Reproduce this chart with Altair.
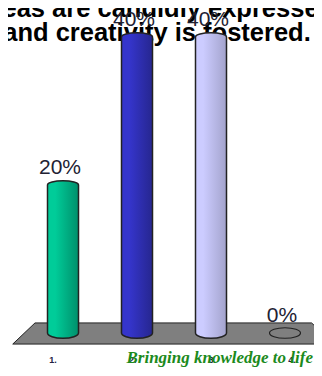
import altair as alt
import pandas as pd

categories = ["1.", "2.", "3.", "4."]
values = [20, 40, 40, 0]
labels = ["20%", "40%", "40%", "0%"]
light = ["#00cc99", "#3535cc", "#ccccff", "#ffffff"]
dark = ["#008f6b", "#26268f", "#a3a3cc", "#ffffff"]
title_lines = ["Ideas are candidly expressed", "and creativity is fostered."]
tagline = "Bringing knowledge to life"

df = pd.DataFrame({"cat": categories, "value": values, "label": labels})

CAP = "M-1,0 A1,0.34 0 1 1 1,0 A1,0.34 0 1 1 -1,0 Z"
TOP = "M-1,0 A1,0.27 0 0 1 1,0"
BOTTOM = "M-1,0 A1,0.34 0 0 0 1,0"
OUT = "#222222"

# Page margin of 8px: every position below is page position minus 8.
x_enc = alt.X("cat:N", sort=categories, axis=None,
              scale=alt.Scale(type="point", domain=categories, range=[55, 277], padding=0))
y_enc = alt.Y("value:Q", axis=None,
              scale=alt.Scale(domain=[0, 40], range=[325, 29], nice=False))


def grad(i):
    return alt.Gradient(gradient="linear", x1=0, x2=1, y1=0, y2=0,
                        stops=[alt.GradientStop(color=light[i], offset=0.25),
                               alt.GradientStop(color=dark[i], offset=1)])


def title_line(text, py):
    return alt.Chart(pd.DataFrame({"t": [text]})).mark_text(
        font="Liberation Sans", fontWeight="bold", fontSize=25.5, color="#000000",
        align="center", baseline="alphabetic"
    ).encode(x=alt.value(149), y=alt.value(py), text="t:N")


layers = [title_line(title_lines[0], 9), title_line(title_lines[1], 33)]

floor = alt.Chart(pd.DataFrame({"t": [0]})).mark_point(
    shape="M-1.0,-0.076 L0.99,-0.076 L1.15,0.076 L-1.16,0.076 Z", filled=True, fill="#7f7f7f",
    stroke=OUT, strokeWidth=1, opacity=1, fillOpacity=1, size=(139 * 2) ** 2
).encode(x=alt.value(166), y=alt.value(325.5))
layers.append(floor)

for i in range(3):
    d = df.iloc[[i]]
    base = alt.Chart(d)
    layers.append(base.mark_point(shape=BOTTOM, filled=True, fill=grad(i), stroke=OUT, strokeWidth=1.5,
                                  opacity=1, fillOpacity=1, size=961)
                  .encode(x=x_enc, y=alt.value(325)))
    layers.append(base.mark_bar(size=31, fill=grad(i))
                  .encode(x=x_enc, y=y_enc, y2=alt.datum(0)))
    for off in (-15.5, 15.5):
        layers.append(base.mark_bar(size=1.5, color=OUT, xOffset=off)
                      .encode(x=x_enc, y=y_enc, y2=alt.datum(0)))
    layers.append(base.mark_point(shape=TOP, filled=True, fill=grad(i), stroke=OUT, strokeWidth=1.5,
                                  opacity=1, fillOpacity=1, size=961)
                  .encode(x=x_enc, y=y_enc))

zero = alt.Chart(df.iloc[[3]]).mark_point(shape=CAP, filled=False, stroke=OUT, strokeWidth=1.2,
                                          opacity=1, size=961).encode(x=x_enc, y=y_enc)
layers.append(zero)

value_text = alt.Chart(df).mark_text(
    font="Liberation Sans", fontSize=21, color="#222233", dy=-17, dx=-3, baseline="middle"
).encode(x=x_enc, y=y_enc, text="label:N")
layers.append(value_text)

main = alt.layer(*layers)

ticks = alt.Chart(df).mark_text(
    font="Liberation Sans", fontSize=9, fontWeight="bold", color="#222244", baseline="middle"
).encode(x=alt.X("cat:N", sort=categories, axis=None,
                 scale=alt.Scale(type="point", domain=categories, range=[45, 284], padding=0)),
         y=alt.value(352), text="cat:N")

tag = alt.Chart(pd.DataFrame({"t": [tagline]})).mark_text(
    font="Liberation Serif", fontSize=17, fontStyle="italic", fontWeight="bold",
    color="#1c8a1c", align="right", baseline="alphabetic"
).encode(x=alt.value(305), y=alt.value(355), text="t:N")

chart = alt.layer(main, ticks, tag).resolve_scale(x="independent", y="independent").properties(
    width=306, height=360, padding=0,
    autosize=alt.AutoSizeParams(type="none"),
).configure_view(stroke=None)

chart.save("out.html", embed_options={"renderer": "svg", "actions": False})
